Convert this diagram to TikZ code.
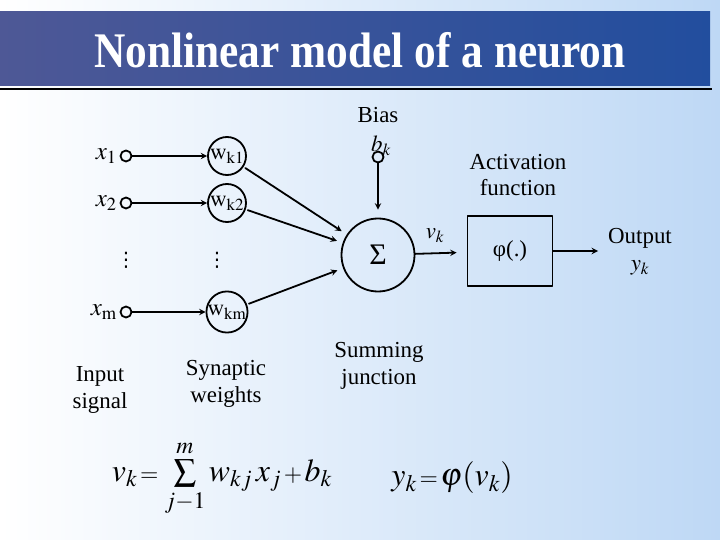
\documentclass[tikz,border=0pt]{standalone}
\usepackage{mathptmx}
\usepackage{fontspec}
\setmainfont{Liberation Serif}
\newfontfamily\titlefont{Liberation Serif}[FakeStretch=0.87]
\newfontfamily\symfont{DejaVu Sans}
\definecolor{bandleft}{RGB}{78,88,150}
\definecolor{bandmid}{RGB}{28,46,118}
\definecolor{bandright}{RGB}{34,78,158}
\definecolor{paleblue}{RGB}{236,243,252}
\definecolor{skyblue}{RGB}{190,216,245}
\begin{document}
\begin{tikzpicture}[x=1bp, y=-1bp, font=\fontsize{23}{27}\selectfont, line join=round, line cap=round, >=stealth, line width=1.8bp,
		term/.style={circle, draw, minimum size=11bp, inner sep=0pt},
		weight/.style={circle, draw, minimum size=38bp, inner sep=0pt},
		caption/.style={align=center, inner sep=1bp},
		vdotsnode/.style={font=\fontsize{20}{20}\symfont, inner sep=0pt},
		formula/.style={font=\fontsize{32}{36}\selectfont, inner sep=0pt}]
			\def\xin{126} \def\xw{227} \def\ysum{255}
			\useasboundingbox (0,0) rectangle (720,540);
			\shade[left color=white, middle color=paleblue, right color=skyblue] (0,0) rectangle (720,540);
			\shade[left color=bandleft, middle color=bandmid, right color=bandright] (0,12) rectangle (710,86);
			\draw[line width=2.5bp, line cap=butt] (0,89)--(712,89);
			\node[text=white, font=\fontsize{50}{54}\titlefont\bfseries] (title) at (360,50) {Nonlinear model of a neuron};
			% summing junction and bias
			\node[circle, draw, minimum size=73bp, font=\fontsize{30}{30}\selectfont] (sum) at (378,\ysum) {Σ};
			\node[term] (b) at (378,157) {};
			\node (blabel) at (381,146) {$b_k$};
			\node (bias) at (378,115) {Bias};
			\draw[->, shorten >=8bp] (b) -- (sum);
			% inputs and synaptic weights
			\foreach \i/\y in {1/156, 2/203, m/312}{
				\node[term] (x\i) at (\xin,\y) {};
				\node[left, inner sep=2bp, font=\fontsize{25}{27}\selectfont] (lx\i) at (x\i.west) {$x_{\mathrm{\i}}$};
				\node[weight] (w\i) at (\xw,\y) {$\mathrm{w}_{\mathrm{k\i}}$};
				\draw[->] (x\i) -- (w\i);
				\draw[->, shorten <=2bp, shorten >=6bp] (w\i) -- (sum);
			}
			\node[vdotsnode] (dx) at (\xin,260) {⋮};
			\node[vdotsnode] (dw) at (\xw-10,260) {⋮};
			% activation and output
			\node[draw, minimum width=85bp, minimum height=70bp] (phi) at (510,251) {φ(.)};
			\node (vk) at (435,236) {$v_k$};
			\draw[->, shorten >=10bp] (sum) -- (phi);
			\node[caption] (act) at (518,175) {Activation\\function};
			\coordinate (out) at (598,251);
			\draw[->] (phi) -- (out);
			\node (output) at (640,238) {Output};
			\node (yk) at (640,268) {$y_k$};
			% captions
			\node[caption] (insig) at (100,390) {Input\\signal};
			\node[caption] (syn) at (226,384) {Synaptic\\weights};
			\node[caption] (sumj) at (379,366) {Summing\\junction};
			% formulas
			\node[formula] (eqv) at (222,478) {$v_k{\scriptstyle\,=\,}\sum\limits_{j-1}^{m} w_{kj}\,x_j{\scriptstyle\,+\,}b_k$};
			\node[formula] (eqy) at (452,478) {$y_k{\scriptstyle\,=\,}\varphi(v_k)$};
		\end{tikzpicture}
\end{document}
